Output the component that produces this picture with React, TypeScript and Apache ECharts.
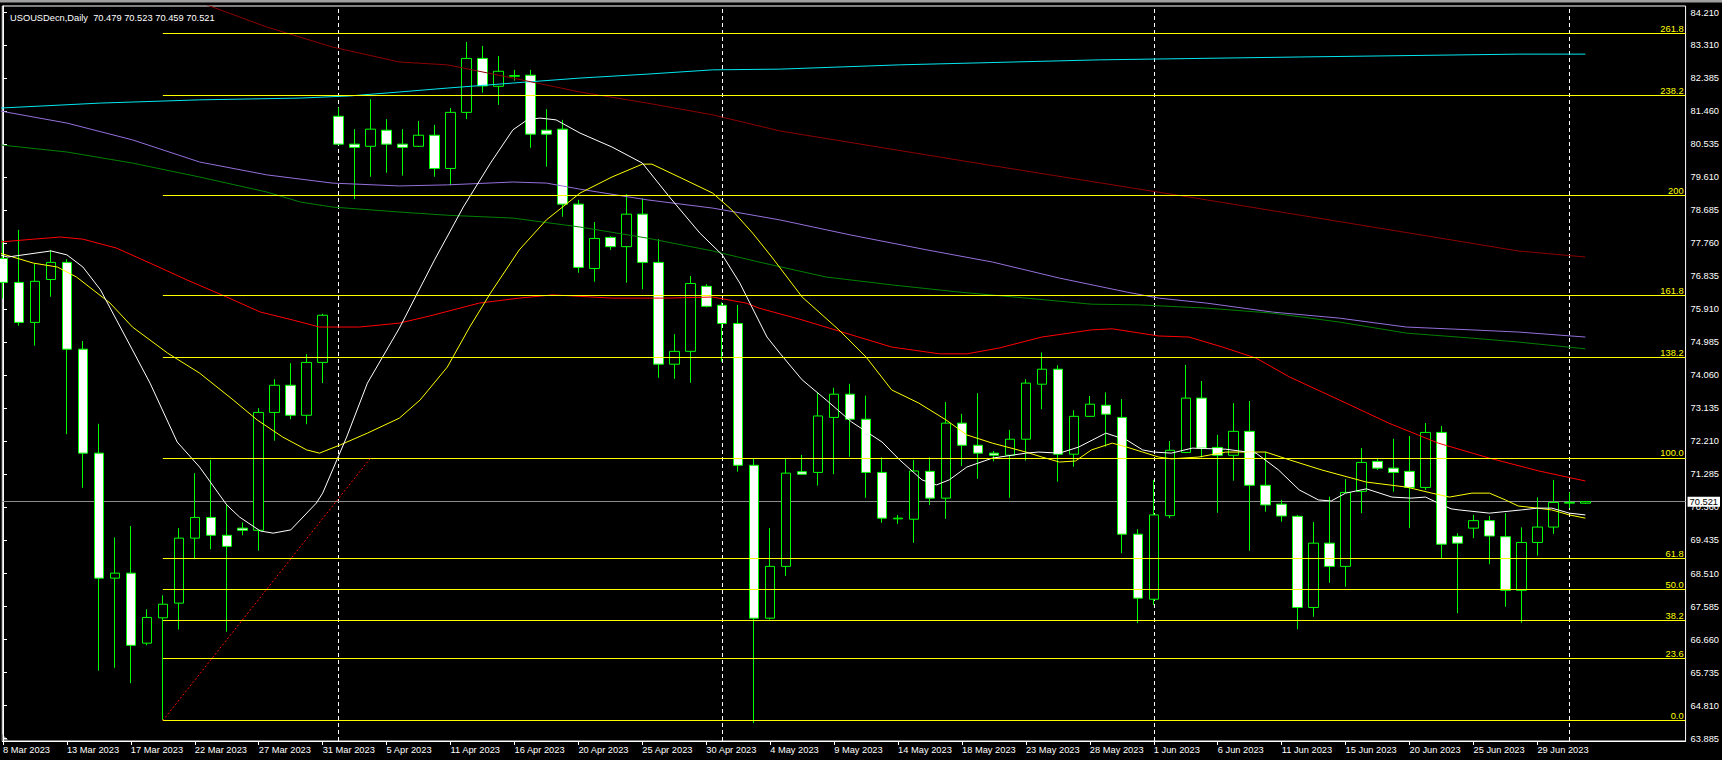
import React, { useEffect, useRef } from 'react';
import * as echarts from 'echarts';

const titleText = 'USOUSDecn,Daily  70.479 70.523 70.459 70.521';

const dates = [
  '8 Mar 2023', '9 Mar 2023', '10 Mar 2023', '12 Mar 2023', '13 Mar 2023', '14 Mar 2023', '15 Mar 2023', '16 Mar 2023',
  '17 Mar 2023', '19 Mar 2023', '20 Mar 2023', '21 Mar 2023', '22 Mar 2023', '23 Mar 2023', '24 Mar 2023', '26 Mar 2023',
  '27 Mar 2023', '28 Mar 2023', '29 Mar 2023', '30 Mar 2023', '31 Mar 2023', '2 Apr 2023', '3 Apr 2023', '4 Apr 2023',
  '5 Apr 2023', '6 Apr 2023', '9 Apr 2023', '10 Apr 2023', '11 Apr 2023', '12 Apr 2023', '13 Apr 2023', '14 Apr 2023',
  '16 Apr 2023', '17 Apr 2023', '18 Apr 2023', '19 Apr 2023', '20 Apr 2023', '21 Apr 2023', '23 Apr 2023', '24 Apr 2023',
  '25 Apr 2023', '26 Apr 2023', '27 Apr 2023', '28 Apr 2023', '30 Apr 2023', '1 May 2023', '2 May 2023', '3 May 2023',
  '4 May 2023', '5 May 2023', '7 May 2023', '8 May 2023', '9 May 2023', '10 May 2023', '11 May 2023', '12 May 2023',
  '14 May 2023', '15 May 2023', '16 May 2023', '17 May 2023', '18 May 2023', '19 May 2023', '21 May 2023', '22 May 2023',
  '23 May 2023', '24 May 2023', '25 May 2023', '26 May 2023', '28 May 2023', '29 May 2023', '30 May 2023', '31 May 2023',
  '1 Jun 2023', '2 Jun 2023', '4 Jun 2023', '5 Jun 2023', '6 Jun 2023', '7 Jun 2023', '8 Jun 2023', '9 Jun 2023',
  '11 Jun 2023', '12 Jun 2023', '13 Jun 2023', '14 Jun 2023', '15 Jun 2023', '16 Jun 2023', '18 Jun 2023', '19 Jun 2023',
  '20 Jun 2023', '21 Jun 2023', '22 Jun 2023', '23 Jun 2023', '25 Jun 2023', '26 Jun 2023', '27 Jun 2023', '28 Jun 2023',
  '29 Jun 2023', '30 Jun 2023', '2 Jul 2023', '3 Jul 2023',
];

const openP = [
  77.33, 76.66, 75.54, 76.74, 77.22, 74.79, 71.88, 68.38, 68.52, 66.56,
  67.27, 67.68, 69.50, 70.08, 69.58, 69.78, 69.72, 73.02, 73.78, 72.94,
  74.42, 81.31, 80.53, 80.47, 80.92, 80.53, 80.47, 80.78, 79.85, 81.42,
  82.93, 82.15, 82.43, 82.46, 80.92, 80.95, 78.85, 77.05, 77.92, 77.66,
  78.57, 77.22, 74.37, 74.73, 76.55, 76.02, 75.51, 71.54, 67.26, 68.71,
  71.36, 71.34, 72.88, 73.53, 72.83, 71.34, 70.04, 70.03, 71.37, 70.62,
  72.72, 72.10, 71.88, 71.82, 72.27, 73.81, 74.23, 71.85, 72.91, 73.22,
  72.88, 69.61, 67.79, 70.13, 71.90, 73.42, 72.04, 71.82, 72.49, 70.98,
  70.45, 70.11, 67.56, 69.36, 68.71, 70.81, 71.65, 71.46, 71.37, 70.92,
  72.46, 69.55, 69.78, 69.99, 69.54, 68.04, 69.38, 69.81, 70.48, 70.479,
];
const closeP = [
  76.66, 75.54, 76.69, 77.22, 74.79, 71.88, 68.38, 68.52, 66.50, 67.28,
  67.65, 69.50, 70.08, 69.58, 69.27, 69.72, 73.02, 73.78, 72.94, 74.42,
  75.74, 80.53, 80.44, 80.95, 80.53, 80.44, 80.78, 79.85, 81.42, 82.93,
  82.16, 82.57, 82.45, 80.81, 80.81, 78.85, 77.08, 77.89, 77.66, 78.57,
  77.22, 74.37, 74.73, 76.63, 75.99, 75.51, 71.54, 67.26, 68.71, 71.32,
  71.29, 72.92, 73.53, 72.83, 71.34, 70.06, 70.06, 71.38, 70.62, 72.72,
  72.10, 71.88, 71.82, 72.27, 73.84, 74.23, 71.85, 72.91, 73.25, 72.97,
  69.61, 67.82, 70.15, 71.96, 73.42, 72.02, 71.82, 72.49, 70.98, 70.43,
  70.12, 67.56, 69.36, 68.71, 70.78, 71.62, 71.46, 71.34, 70.92, 72.46,
  69.33, 69.36, 69.99, 69.56, 68.04, 69.38, 69.81, 70.50, 70.50, 70.521,
];
const lowP = [
  76.21, 75.45, 74.89, 76.26, 72.41, 70.91, 65.79, 65.87, 65.44, 66.50,
  64.41, 66.94, 68.91, 69.19, 66.88, 69.58, 69.15, 72.23, 72.83, 72.69,
  73.84, 80.50, 78.99, 79.62, 79.73, 79.65, 80.45, 79.62, 79.38, 81.23,
  81.97, 81.63, 82.31, 80.43, 79.90, 78.50, 76.93, 76.68, 77.57, 76.65,
  76.47, 73.99, 73.96, 73.85, 75.96, 74.44, 71.36, 64.32, 67.22, 68.44,
  71.27, 70.97, 71.29, 71.78, 70.63, 69.93, 69.90, 69.37, 70.43, 70.04,
  71.52, 71.16, 71.65, 70.63, 71.67, 73.11, 71.08, 71.50, 72.89, 72.06,
  69.08, 67.12, 67.63, 70.06, 71.88, 71.76, 70.21, 71.11, 69.15, 70.24,
  69.96, 66.95, 67.30, 68.25, 68.14, 70.20, 71.41, 70.80, 69.78, 70.85,
  68.94, 67.40, 69.50, 68.77, 67.58, 67.13, 69.01, 69.62, 70.34, 70.459,
];
const highP = [
  77.85, 78.13, 77.18, 77.57, 77.31, 75.02, 72.70, 69.52, 69.84, 67.51,
  67.90, 69.78, 71.32, 71.69, 70.43, 69.94, 73.14, 73.95, 74.40, 74.65,
  75.78, 81.56, 80.95, 81.79, 81.23, 80.95, 81.18, 81.07, 81.54, 83.39,
  83.28, 83.00, 82.61, 82.61, 81.51, 81.21, 78.97, 78.35, 77.95, 79.13,
  79.01, 77.87, 75.21, 76.84, 76.61, 76.10, 76.03, 71.74, 69.78, 71.74,
  71.83, 73.58, 73.71, 73.82, 73.49, 71.76, 70.15, 71.69, 71.76, 73.31,
  72.98, 73.56, 71.94, 72.53, 73.95, 74.70, 74.34, 73.08, 73.48, 73.58,
  73.39, 69.75, 71.13, 72.22, 74.35, 73.90, 72.39, 73.28, 73.34, 71.92,
  70.57, 70.15, 69.95, 70.66, 71.15, 72.02, 71.74, 72.28, 72.36, 72.72,
  72.64, 69.64, 70.15, 70.12, 70.20, 69.80, 70.64, 71.13, 70.78, 70.523,
];

// moving averages: [bar index, price]
const maWhite = [
  [-0.2, 77.43], [0.3, 77.37], [3.0, 77.54], [4.0, 77.43], [5.0, 77.09], [6.1, 76.45], [7.1, 75.61], [8.1, 74.77],
  [9.2, 73.84], [10.9, 72.19], [12.3, 71.49], [14.0, 70.43], [14.8, 70.09], [16.1, 69.70], [16.9, 69.64], [18.0, 69.73],
  [19.6, 70.48], [20.0, 70.76], [21.5, 72.33], [22.8, 73.84], [24.8, 75.38], [27.0, 77.29], [28.8, 78.77], [30.5, 80.00],
  [31.9, 80.93], [32.8, 81.21], [33.6, 81.26], [34.6, 81.21], [36.1, 80.84], [38.1, 80.45], [40.0, 80.00], [41.7, 79.05],
  [43.6, 78.04], [45.0, 77.43], [46.1, 76.64], [47.8, 75.13], [48.6, 74.68], [50.0, 73.93], [51.5, 73.37], [53.1, 72.75],
  [55.0, 72.19], [56.1, 71.69], [57.5, 71.13], [58.4, 70.99], [59.2, 71.13], [60.3, 71.49], [61.9, 71.74], [64.0, 71.88],
  [64.8, 71.91], [66.1, 71.88], [67.3, 72.05], [69.0, 72.44], [70.3, 72.25], [71.3, 71.97], [72.0, 71.91], [73.1, 71.88],
  [74.4, 72.02], [76.5, 71.99], [78.4, 71.88], [79.8, 71.41], [81.1, 70.85], [82.3, 70.57], [83.1, 70.54], [84.0, 70.76],
  [85.3, 70.88], [86.9, 70.65], [88.1, 70.62], [89.0, 70.65], [89.8, 70.48], [90.6, 70.32], [91.1, 70.29], [93.0, 70.20],
  [95.0, 70.29], [96.0, 70.34], [96.9, 70.34], [98.0, 70.20], [99.0, 70.15],
];
const maYellow = [
  [-0.2, 77.48], [1.9, 77.20], [3.4, 77.09], [4.6, 76.81], [6.7, 76.08], [8.1, 75.41], [10.3, 74.68], [12.3, 74.12],
  [14.4, 73.37], [15.9, 72.81], [17.5, 72.33], [19.0, 71.97], [19.8, 71.88], [21.1, 72.11], [22.8, 72.44], [24.8, 72.86],
  [26.1, 73.37], [27.8, 74.29], [29.2, 75.41], [30.5, 76.36], [32.3, 77.57], [34.0, 78.41], [36.1, 79.16], [38.1, 79.61],
  [40.0, 79.97], [40.6, 79.97], [42.3, 79.61], [44.4, 79.16], [45.6, 78.69], [46.9, 78.04], [48.1, 77.37], [50.0, 76.25],
  [52.3, 75.33], [54.0, 74.57], [55.6, 73.65], [57.3, 73.28], [59.0, 72.81], [60.3, 72.39], [61.9, 72.16], [64.0, 71.91],
  [65.0, 71.77], [66.1, 71.63], [67.1, 71.66], [68.1, 71.97], [69.4, 72.16], [70.3, 72.05], [71.3, 71.91], [72.3, 71.77],
  [73.1, 71.72], [74.8, 71.77], [76.5, 71.91], [79.0, 71.91], [80.5, 71.69], [82.5, 71.41], [85.3, 71.07], [87.8, 70.93],
  [89.4, 70.76], [90.5, 70.65], [91.9, 70.76], [93.0, 70.76], [94.0, 70.57], [94.8, 70.40], [96.0, 70.34], [96.9, 70.29],
  [98.0, 70.15], [99.0, 70.06],
];
const maRed = [
  [-0.2, 77.79], [1.9, 77.87], [3.6, 77.93], [5.0, 77.87], [7.1, 77.62], [8.6, 77.32], [9.2, 77.20], [11.5, 76.73],
  [14.0, 76.25], [16.1, 75.83], [18.1, 75.61], [19.8, 75.41], [22.3, 75.41], [24.8, 75.52], [26.7, 75.72], [29.8, 76.08],
  [32.3, 76.22], [34.4, 76.31], [38.1, 76.22], [41.5, 76.22], [44.4, 76.25], [46.5, 76.08], [47.3, 75.94], [48.6, 75.78],
  [50.0, 75.61], [52.5, 75.27], [55.6, 74.85], [58.6, 74.66], [60.3, 74.66], [62.3, 74.82], [65.0, 75.13], [68.1, 75.33],
  [69.4, 75.36], [72.3, 75.16], [74.2, 75.13], [76.3, 74.85], [78.4, 74.54], [80.5, 74.01], [83.6, 73.37], [86.7, 72.72],
  [89.8, 72.16], [93.0, 71.74], [96.1, 71.38], [99.0, 71.10],
];
const maGreen = [
  [-0.2, 80.51], [4.0, 80.31], [8.1, 80.00], [12.3, 79.61], [16.5, 79.19], [18.6, 78.91], [20.6, 78.77], [24.8, 78.63],
  [27.8, 78.54], [31.9, 78.46], [36.1, 78.21], [40.3, 77.90], [44.4, 77.54], [47.3, 77.23], [51.5, 76.81], [55.6, 76.59],
  [59.8, 76.39], [64.0, 76.22], [68.1, 76.05], [71.1, 76.03], [75.3, 75.94], [79.4, 75.80], [83.6, 75.55], [87.8, 75.24],
  [91.9, 75.10], [94.8, 74.99], [99.0, 74.80],
];
const maPurple = [
  [-0.2, 81.46], [4.0, 81.12], [8.1, 80.65], [12.3, 80.03], [16.5, 79.67], [20.6, 79.44], [24.8, 79.36], [27.8, 79.39],
  [31.9, 79.47], [34.0, 79.44], [36.1, 79.27], [40.3, 78.97], [44.4, 78.74], [48.6, 78.41], [53.0, 77.99], [57.8, 77.57],
  [61.9, 77.23], [66.1, 76.78], [70.3, 76.39], [72.3, 76.22], [75.3, 76.08], [79.4, 75.83], [83.6, 75.66], [87.8, 75.41],
  [91.9, 75.33], [94.8, 75.27], [99.0, 75.13],
];
const maMaroon = [
  [9.2, 85.01], [13.1, 84.37], [16.5, 83.81], [20.6, 83.25], [24.8, 82.83], [27.8, 82.75], [31.9, 82.38], [36.1, 81.99],
  [40.3, 81.68], [44.4, 81.35], [48.6, 80.90], [61.6, 79.95], [75.3, 78.97], [89.1, 77.96], [94.8, 77.54], [99.0, 77.37],
];
const maCyan = [
  [-0.2, 81.54], [6.1, 81.68], [12.3, 81.77], [18.6, 81.82], [21.7, 81.88], [24.8, 81.99], [27.8, 82.10], [31.9, 82.24],
  [36.1, 82.38], [40.3, 82.49], [44.4, 82.61], [48.6, 82.63], [56.1, 82.75], [68.6, 82.89], [81.1, 82.97], [94.8, 83.05],
  [99.0, 83.05],
];

const yTickValues = [
  63.885, 64.81, 65.735, 66.66, 67.585, 68.51, 69.435, 70.36, 71.285, 72.21, 73.135, 74.06,
  74.985, 75.91, 76.835, 77.76, 78.685, 79.61, 80.535, 81.46, 82.385, 83.31, 84.21,
];
const xTickBars = [0, 4, 8, 12, 16, 20, 24, 28, 32, 36, 40, 44, 48, 52, 56, 60, 64, 68, 72, 76, 80, 84, 88, 92, 96];

const fibRatios = [0, 23.6, 38.2, 50, 61.8, 100, 138.2, 161.8, 200, 238.2, 261.8];
const fibLabels = ['0.0', '23.6', '38.2', '50.0', '61.8', '100.0', '138.2', '161.8', '200', '238.2', '261.8'];
const fibLow = 64.395;
const fibHigh = 71.745;
const fibStartBar = 10;
const fibEndBar = 23;
const currentPrice = 70.521;

const X_MIN = -0.044;
const X_MAX = 105.27;
const Y_MIN = 63.821;
const Y_MAX = 84.3976;

const FONT = '"Liberation Sans", Arial, sans-serif';
const FS = 9.3;

export default function App() {
  const ref = useRef<HTMLDivElement>(null);

  useEffect(() => {
    if (!ref.current) return;
    const chart = echarts.init(ref.current, undefined, { renderer: 'svg' });

    const candles = dates.map((_, i) => [i, openP[i], closeP[i], lowP[i], highP[i]]);
    const separators: number[] = [];
    for (let i = 1; i < dates.length; i++) {
      const m0 = dates[i - 1].split(' ')[1];
      const m1 = dates[i].split(' ')[1];
      if (m0 !== m1) separators.push(i);
    }
    const fibLines = fibRatios.map((r, k) => {
      const price = fibLow + (r / 100) * (fibHigh - fibLow);
      return [
        { coord: [fibStartBar, price], label: { formatter: fibLabels[k] } },
        { coord: [X_MAX, price] },
      ];
    });

    const maSeries = (name: string, data: number[][], color: string) => ({
      name,
      type: 'line',
      data,
      showSymbol: false,
      symbol: 'none',
      z: 3,
      clip: true,
      lineStyle: { color, width: 1 },
      emphasis: { disabled: true },
    });

    chart.setOption({
      animation: false,
      backgroundColor: '#000000',
      textStyle: { fontFamily: FONT },
      title: {
        text: titleText,
        left: 5,
        top: 8,
        textStyle: { color: '#ffffff', fontSize: FS, fontWeight: 'normal', fontFamily: FONT },
      },
      grid: {
        left: 2,
        top: 6,
        right: 35,
        bottom: 19,
        show: true,
        borderColor: '#ffffff',
        borderWidth: 1,
        backgroundColor: '#000000',
      },
      xAxis: {
        type: 'value',
        min: X_MIN,
        max: X_MAX,
        splitLine: { show: false },
        axisLine: { show: true, lineStyle: { color: '#ffffff', width: 1 } },
        axisTick: { show: true, length: 4, lineStyle: { color: '#ffffff' }, customValues: xTickBars },
        axisLabel: {
          customValues: xTickBars,
          formatter: (v: number) => dates[Math.round(v)] || '',
          color: '#ffffff',
          fontSize: FS,
          fontFamily: FONT,
          align: 'left',
          margin: 4,
          hideOverlap: false,
        },
      },
      yAxis: {
        type: 'value',
        position: 'right',
        min: Y_MIN,
        max: Y_MAX,
        scale: true,
        splitLine: { show: false },
        axisLine: { show: true, lineStyle: { color: '#ffffff', width: 1 } },
        axisTick: { show: true, length: 4, lineStyle: { color: '#ffffff' }, customValues: yTickValues },
        axisLabel: {
          customValues: yTickValues,
          formatter: (v: number) => v.toFixed(3),
          color: '#ffffff',
          fontSize: FS,
          fontFamily: FONT,
          margin: 5,
        },
      },
      series: [
        {
          name: 'separators',
          type: 'line',
          data: [],
          z: 1,
          markLine: {
            silent: true,
            z: 1,
            symbol: ['none', 'none'],
            label: { show: false },
            lineStyle: { color: '#ffffff', width: 1, type: [4, 3] },
            data: separators.map((b) => ({ xAxis: b })),
          },
        },
        {
          name: 'bid',
          type: 'line',
          data: [],
          z: 1,
          markLine: {
            silent: true,
            z: 1,
            symbol: ['none', 'none'],
            lineStyle: { color: '#8c8c8c', width: 1, type: 'solid' },
            label: {
              show: true,
              position: 'end',
              distance: 2,
              formatter: currentPrice.toFixed(3),
              color: '#000000',
              backgroundColor: '#ffffff',
              padding: [1, 2, 0, 2],
              fontSize: FS,
              fontFamily: FONT,
            },
            data: [{ yAxis: currentPrice }],
          },
        },
        {
          name: 'USOUSD',
          type: 'candlestick',
          data: candles,
          encode: { x: 0, y: [1, 2, 3, 4] },
          barWidth: 10,
          z: 2,
          itemStyle: {
            color: '#000000',
            color0: '#ffffff',
            borderColor: '#00ff00',
            borderColor0: '#00ff00',
            borderColorDoji: '#00ff00',
            borderWidth: 1,
          },
          emphasis: { disabled: true },
        },
        maSeries('maCyan', maCyan, '#00e6f0'),
        maSeries('maMaroon', maMaroon, '#8b0000'),
        maSeries('maPurple', maPurple, '#9370db'),
        maSeries('maGreen', maGreen, '#008000'),
        maSeries('maRed', maRed, '#ff0000'),
        maSeries('maYellow', maYellow, '#ffff00'),
        maSeries('maWhite', maWhite, '#ffffff'),
        {
          name: 'fib',
          type: 'line',
          data: [],
          z: 4,
          markLine: {
            silent: true,
            z: 4,
            symbol: ['none', 'none'],
            lineStyle: { color: '#ffff00', width: 1, type: 'solid' },
            label: {
              show: true,
              position: 'insideEndTop',
              distance: [2, 0],
              color: '#ffff00',
              fontSize: FS,
              fontFamily: FONT,
            },
            data: [
              ...fibLines,
              [
                {
                  coord: [fibStartBar, fibLow],
                  lineStyle: { color: '#ff0000', type: [2, 2], width: 1 },
                  label: { show: false },
                },
                { coord: [fibEndBar, fibHigh] },
              ],
            ],
          },
        },
      ],
      graphic: [
        { type: 'rect', shape: { x: 0, y: 0, width: 1722, height: 2.5 }, style: { fill: '#a0a0a0' }, silent: true },
        { type: 'polygon', shape: { points: [[2, 734], [2, 741], [9, 741]] }, style: { fill: '#8a8a8a' }, silent: true },
      ],
    });

    return () => chart.dispose();
  }, []);

  return (
    <div
      style={{ position: 'fixed', left: 0, top: 0, width: 1722, height: 760, background: '#000000' }}
    >
      <div ref={ref} style={{ width: 1722, height: 760 }} />
    </div>
  );
}
